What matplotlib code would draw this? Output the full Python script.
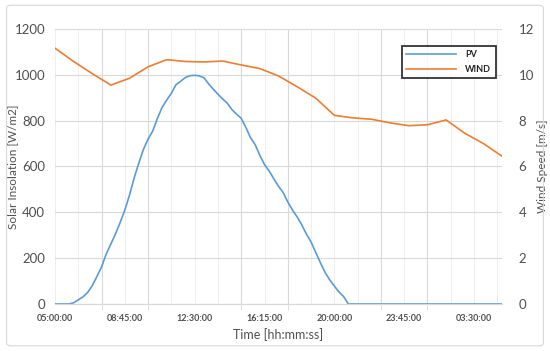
import matplotlib.pyplot as plt
import numpy as np
from matplotlib.patches import FancyBboxPatch

# PV readings every 15 min, 05:00 -> 05:00 next day (hours past midnight)
pv_start, pv_step = 5.0, 0.25
pv = [0, 0, 0, 0, 5, 18, 31, 50, 80, 120, 162, 218, 262, 306, 356, 410,
      475, 550, 615, 675, 720, 755, 810, 858, 890, 920, 957, 972, 988, 996, 998, 995,
      987, 960, 937, 915, 895, 876, 848, 828, 810, 770, 725, 695, 648, 608, 580, 546,
      514, 486, 445, 410, 380, 345, 305, 270, 225, 180, 138, 105, 78, 52, 32, 0,
      0, 0, 0, 0, 0, 0, 0, 0, 0, 0, 0, 0, 0, 0, 0, 0,
      0, 0, 0, 0, 0, 0, 0, 0, 0, 0, 0, 0, 0, 0, 0, 0, 0]

# hourly wind speed, 05:00 -> 05:00
wind_hours = list(range(5, 30))
wind = [11.16, 10.58, 10.05, 9.55, 9.85, 10.35, 10.66, 10.58, 10.56, 10.60,
        10.43, 10.27, 9.95, 9.48, 8.98, 8.23, 8.12, 8.06, 7.90, 7.78,
        7.82, 8.03, 7.45, 7.00, 6.45]

label_hours = [5, 8.75, 12.5, 16.25, 20, 23.75, 27.5]

pv_hours = pv_start + pv_step * np.arange(len(pv))


def hms(h):
    return f"{int(h) % 24:02d}:{int(round((h % 1) * 60)):02d}:00"


plt.rcParams['font.family'] = ['Lato', 'DejaVu Sans']

fig = plt.figure(figsize=(5.5, 3.51), dpi=100)
fig.patches.append(FancyBboxPatch((0.012, 0.015), 0.976, 0.97, boxstyle="round,pad=0,rounding_size=0.008",
                                  transform=fig.transFigure, fill=False, edgecolor='#d9d9d9', linewidth=0.8))
ax = fig.add_axes([0.1, 0.134, 0.8127, 0.7835])
ax2 = ax.twinx()

grid_c = '#d9d9d9'
txt_c = '#505050'

# light vertical grid every 1:15, darker every 2:30
for h in np.arange(5, 29.01, 1.25):
    ax.axvline(h, color='#eeeeee', linewidth=0.7, zorder=0)
ax.set_xticks(np.arange(5, 29.01, 2.5), minor=True)
ax.grid(True, which='minor', axis='x', color=grid_c, linewidth=0.8)
ax.grid(True, which='major', axis='y', color=grid_c, linewidth=0.8)
ax.set_axisbelow(True)

ln1, = ax.plot(pv_hours, pv, color='#5b9bd5', linewidth=1.2, label='PV')
ln2, = ax2.plot(wind_hours, wind, color='#ed7d31', linewidth=1.2, label='WIND')

ax.set_xlim(5, 29)
ax.set_ylim(0, 1200)
ax2.set_ylim(0, 12)
ax.set_yticks(np.arange(0, 1201, 200))
ax2.set_yticks(np.arange(0, 13, 2))
ax.set_xticks(label_hours)
ax.set_xticklabels([hms(h) for h in label_hours])

ax.tick_params(axis='x', which='major', length=0, labelsize=6.5, labelcolor=txt_c, pad=7)
ax.tick_params(axis='x', which='minor', length=4, color=grid_c)
ax.tick_params(axis='y', length=0, labelsize=9.5, labelcolor=txt_c, pad=7)
ax2.tick_params(axis='y', length=0, labelsize=9.5, labelcolor=txt_c, pad=12)
for lab in ax.get_xticklabels():
    lab.set_fontweight('bold')

for a in (ax, ax2):
    for s in ('top', 'left', 'right'):
        a.spines[s].set_visible(False)
    a.spines['bottom'].set_color(grid_c)

ax.set_xlabel('Time [hh:mm:ss]', fontsize=9, color=txt_c, labelpad=4)
ax.set_ylabel('Solar Insolation [W/m2]', fontsize=8.5, color=txt_c)
ax2.set_ylabel('Wind Speed [m/s]', fontsize=8.5, color=txt_c, rotation=90)
ax.yaxis.set_label_coords(-0.083, 0.5)
ax2.yaxis.set_label_coords(1.078, 0.5)

leg = ax2.legend(handles=[ln1, ln2], loc='upper left', bbox_to_anchor=(0.766, 0.955),
                 fontsize=6.5, frameon=True, fancybox=False, handlelength=5.5,
                 borderpad=0.5, labelspacing=0.6, handletextpad=1.0)
leg.get_frame().set_edgecolor('black')
leg.get_frame().set_linewidth(1.3)
for t in leg.get_texts():
    t.set_fontweight('bold')
    t.set_color('#262626')

fig.savefig('out.png', dpi=100)
